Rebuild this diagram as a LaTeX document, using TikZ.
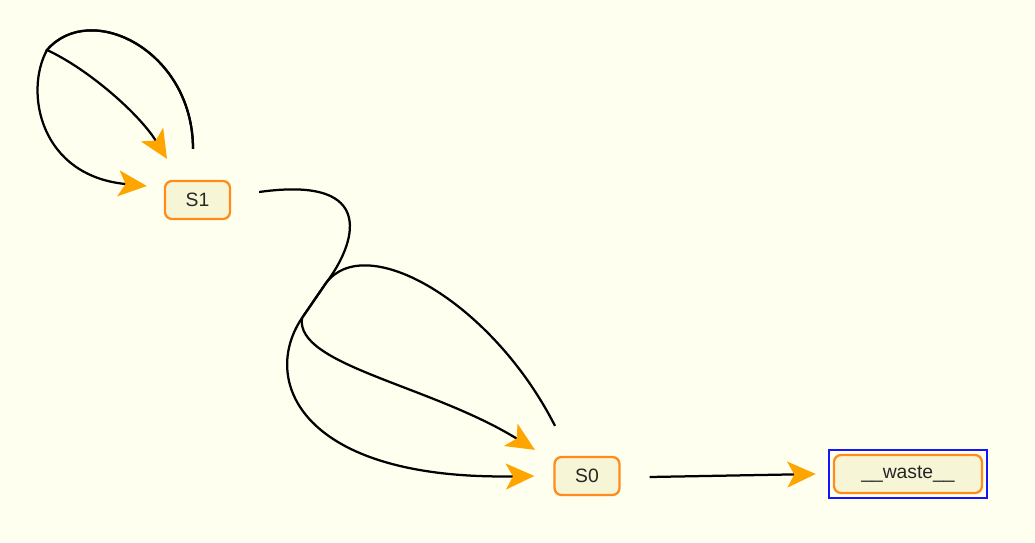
\documentclass[tikz,border=0pt]{standalone}
\usepackage{fontspec}
\setmainfont{Liberation Sans}
\usetikzlibrary{positioning}
\usetikzlibrary{arrows.meta}
\usetikzlibrary{fit}
\definecolor{bgivory}{RGB}{255,255,240}
\definecolor{statefill}{RGB}{246,246,214}
\definecolor{stateline}{RGB}{255,140,26}
\definecolor{arrowor}{RGB}{255,165,0}
\definecolor{selblue}{RGB}{20,20,255}
\tikzset{
    statebox/.style = {rectangle, rounded corners=0.14cm, line width=0.045cm, draw=stateline, fill=statefill, minimum width=1.3cm, minimum height=0.76cm, inner sep=0pt, font=\fontsize{11}{13}\selectfont, text=black!85},
    selbox/.style = {rectangle, draw=selblue, line width=0.045cm, inner sep=0.08cm},
    edgeo/.style = {-{Stealth[length=0.57cm,width=0.52cm,inset=0.14cm,color=arrowor]}, line width=0.045cm, draw=black},
}

\begin{document}
\begin{tikzpicture}[x=0.02cm,y=-0.02cm]
\fill[bgivory] (0,0) rectangle (1035,542);
\useasboundingbox (0,0) rectangle (1035,542);
\node[statebox] at (197.5,200) (S1) {S1};
\node[statebox] at (587,476) (S0) {S0};
\node[statebox, minimum width=2.96cm] at (908,474) (waste) {\_\_waste\_\_};
\node[selbox, fit=(waste)] (wastesel) {};
%
\coordinate (s1loop) at ([shift={(-4.5,-31)}]S1.north);
\coordinate (s1knee) at (47,50);
\coordinate (s0loop) at ([shift={(-32,-30)}]S0.north);
\coordinate (merge) at (326,283);
\coordinate (split) at (302,318);
%
\draw[edgeo] (s1loop) .. controls (193,50) and (90,0) .. (s1knee) .. controls (24,92) and (40,176) .. ([shift={(-17,-14)}]S1.west);
\draw[edgeo] (s1loop) .. controls (193,50) and (90,0) .. (s1knee) .. controls (90,70) and (140,115) .. ([shift={(-30.5,-21)}]S1.north);
\draw[edgeo] ([shift={(28,-8)}]S1.east) .. controls (380,175) and (355,245) .. (merge) -- (split) .. controls (260,380) and (300,480) .. ([shift={(-19,0)}]S0.west);
\draw[edgeo] (s0loop) .. controls (492,302) and (366,230) .. (merge) -- (split) .. controls (295,365) and (430,385) .. ([shift={(-52,-6)}]S0.north);
\draw[edgeo] ([shift={(29,1)}]S0.east) -- ([shift={(-12,0)}]wastesel.west);

%%% 5
\end{tikzpicture}
\end{document}
